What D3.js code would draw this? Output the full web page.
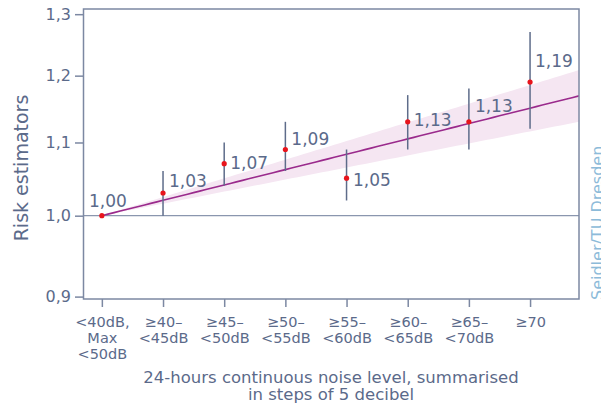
<!DOCTYPE html>
<html>
<head>
<meta charset="utf-8">
<script src="https://cdn.jsdelivr.net/npm/d3@7"></script>
<style>
  html, body { margin: 0; padding: 0; background: #ffffff; }
  svg { display: block; font-family: "DejaVu Sans", sans-serif; }
</style>
</head>
<body>
<svg id="chart" width="601" height="405"></svg>
<script>
// Noise level classes (24-hour continuous level, 5 dB steps)
const categories = [
  ["<40dB,", "Max", "<50dB"],
  ["\u226540\u2013", "<45dB"],
  ["\u226545\u2013", "<50dB"],
  ["\u226550\u2013", "<55dB"],
  ["\u226555\u2013", "<60dB"],
  ["\u226560\u2013", "<65dB"],
  ["\u226565\u2013", "<70dB"],
  ["\u226570"]
];
// Risk estimates per class with 95% confidence limits
const estimates = [1.00, 1.03, 1.07, 1.09, 1.05, 1.13, 1.13, 1.19];
const ciLower   = [null, 1.00, 1.04, 1.06, 1.02, 1.09, 1.09, 1.12];
const ciUpper   = [null, 1.06, 1.10, 1.13, 1.09, 1.17, 1.18, 1.27];
// Fitted exposure-response: relative risk per 5 dB step, with its confidence limits
const trendPerStep = 1.0202;
const trendLowPerStep = 1.0158;
const trendHighPerStep = 1.0246;
// Y axis ticks
const yTicks = [0.9, 1.0, 1.1, 1.2, 1.3];

// label nudges (px) so the value labels stay clear of bars and the trend
const labelDx = [6, 6, 6, 6, 6.5, 6, 6, 5];
const labelDy = [-9, -6, 5.5, -4, 7.5, 4, -10, -15];

const axisColor = "#7c88a2";
const textColor = "#5b6a8a";
const barColor = "#5e6c8a";

const svg = d3.select("#chart");
const plotLeft = 83.5, plotRight = 579, plotTop = 9, plotBottom = 299;

const x = d3.scaleLinear().domain([-0.3, 7.8]).range([plotLeft, plotRight]);
const y = d3.scaleLog().domain([0.8972, 1.3088]).range([plotBottom, plotTop]);
const fmt = v => d3.format(".2f")(v).replace(".", ",");

// confidence band of the fitted trend
const steps = d3.range(0, 7.8001, 0.1);
svg.append("path")
  .datum(steps)
  .attr("fill", "#f5e6f2")
  .attr("d", d3.area()
    .x(d => x(d))
    .y0(d => y(Math.pow(trendLowPerStep, d)))
    .y1(d => y(Math.pow(trendHighPerStep, d))));

// reference line at 1.0
svg.append("line")
  .attr("x1", plotLeft).attr("x2", plotRight)
  .attr("y1", y(1)).attr("y2", y(1))
  .attr("stroke", "#8a96ae").attr("stroke-width", 1.2);

// fitted trend
svg.append("path")
  .datum(steps)
  .attr("fill", "none")
  .attr("stroke", "#9a2a8c")
  .attr("stroke-width", 1.6)
  .attr("d", d3.line().x(d => x(d)).y(d => y(Math.pow(trendPerStep, d))));

// confidence intervals
svg.append("g").selectAll("line")
  .data(estimates.map((v, i) => ({ i, lo: ciLower[i], hi: ciUpper[i] })).filter(d => d.lo != null))
  .join("line")
  .attr("x1", d => x(d.i)).attr("x2", d => x(d.i))
  .attr("y1", d => y(d.lo)).attr("y2", d => y(d.hi))
  .attr("stroke", barColor).attr("stroke-width", 1.5);

// point estimates
svg.append("g").selectAll("circle")
  .data(estimates)
  .join("circle")
  .attr("cx", (d, i) => x(i)).attr("cy", d => y(d))
  .attr("r", 2.6).attr("fill", "#e8141c");

// value labels
svg.append("g").selectAll("text")
  .data(estimates)
  .join("text")
  .attr("x", (d, i) => x(i) + labelDx[i])
  .attr("y", (d, i) => y(d) + labelDy[i])
  .attr("text-anchor", (d, i) => i === 0 ? "middle" : "start")
  .attr("font-size", 17)
  .attr("fill", textColor)
  .text(d => fmt(d));

// y axis
const yAxis = svg.append("g")
  .attr("transform", `translate(${plotLeft},0)`)
  .call(d3.axisLeft(y).tickValues(yTicks).tickSize(8.5).tickPadding(4)
    .tickFormat(v => d3.format(".1f")(v).replace(".", ",")));
yAxis.select(".domain").remove();
yAxis.selectAll("line").attr("stroke", axisColor).attr("stroke-width", 1.5);
yAxis.selectAll("text").attr("font-size", 16).attr("fill", textColor)
  .attr("font-family", "DejaVu Sans");

// x axis
const xAxis = svg.append("g")
  .attr("transform", `translate(0,${plotBottom})`)
  .call(d3.axisBottom(x).tickValues(d3.range(categories.length)).tickSize(8).tickFormat(""));
xAxis.select(".domain").remove();
xAxis.selectAll("line").attr("stroke", axisColor).attr("stroke-width", 1.5);
xAxis.selectAll(".tick").each(function (d) {
  const t = d3.select(this).append("text")
    .attr("text-anchor", "middle")
    .attr("font-size", 14.5)
    .attr("font-family", "DejaVu Sans")
    .attr("fill", textColor);
  categories[d].forEach((line, k) => {
    t.append("tspan").attr("x", 0).attr("y", 27.5 + k * 16.2).text(line);
  });
});

// plot frame
svg.append("rect")
  .attr("x", plotLeft).attr("y", plotTop)
  .attr("width", plotRight - plotLeft).attr("height", plotBottom - plotTop)
  .attr("fill", "none").attr("stroke", axisColor).attr("stroke-width", 1.5);

// axis titles
svg.append("text")
  .attr("transform", `translate(28,${(plotTop + plotBottom) / 2 + 14}) rotate(-90)`)
  .attr("text-anchor", "middle")
  .attr("font-size", 19)
  .attr("fill", textColor)
  .text("Risk estimators");

const xt = svg.append("text")
  .attr("text-anchor", "middle")
  .attr("font-size", 16.5)
  .attr("fill", textColor);
xt.append("tspan").attr("x", 331).attr("y", 383).text("24-hours continuous noise level, summarised");
xt.append("tspan").attr("x", 331).attr("y", 400).text("in steps of 5 decibel");

// source credit along the right edge
svg.append("text")
  .attr("transform", "translate(603,300) rotate(-90)")
  .attr("font-size", 16)
  .attr("fill", "#8dbbd9")
  .text("Seidler/TU Dresden");
</script>
</body>
</html>
